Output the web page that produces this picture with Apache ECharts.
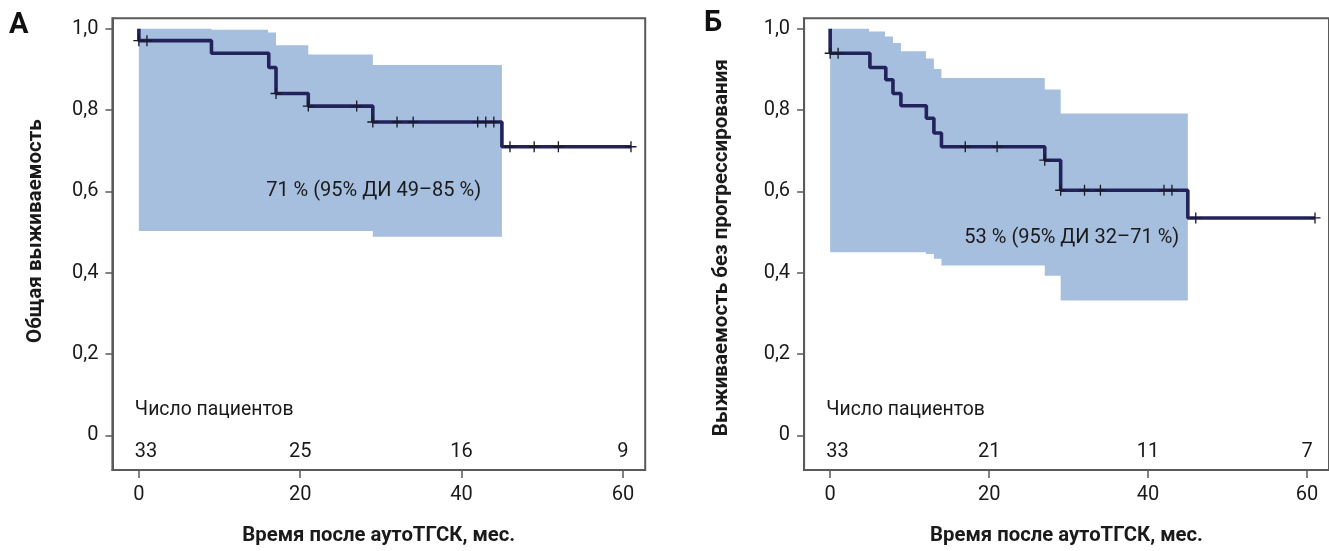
<!DOCTYPE html>
<html>
<head>
<meta charset="utf-8">
<script src="https://cdn.jsdelivr.net/npm/echarts@6/dist/echarts.min.js"></script>
<style>
html,body{margin:0;padding:0;background:#fff;}
#chart{width:1329px;height:551px;}
</style>
</head>
<body>
<div id="chart"></div>
<script>
// ---- Data ----
const xTickValues = [0, 20, 40, 60];
const xTickLabels = ['0', '20', '40', '60'];
const yTickValues = [0, 0.2, 0.4, 0.6, 0.8, 1.0];
const yTickLabels = ['0', '0,2', '0,4', '0,6', '0,8', '1,0'];

// Panel A: overall survival
const timesA = [0, 0, 9, 16.1, 17, 21, 29, 45, 61];
const survA  = [1.0, 0.971, 0.940, 0.905, 0.841, 0.810, 0.771, 0.710, 0.710];
const censorA = [0, 1, 17, 21, 27, 29, 32, 34, 42, 43, 44, 46, 49, 52, 61];
const bandTimesA = [0, 9, 16, 17, 21, 29, 45];
const upperA = [1.0, 0.998, 0.991, 0.960, 0.937, 0.911, 0.911];
const lowerA = [0.503, 0.503, 0.503, 0.503, 0.503, 0.489, 0.489];
const riskA = [33, 25, 16, 9];
const noteA = '71 % (95% ДИ 49–85 %)';

// Panel Б: progression-free survival
const timesB = [0, 0, 5, 7, 7.9, 8.9, 12.1, 13.05, 14, 27, 29, 45, 61];
const survB  = [1.0, 0.94, 0.905, 0.875, 0.841, 0.811, 0.780, 0.744, 0.710, 0.677, 0.603, 0.535, 0.535];
const censorB = [0, 1, 17, 21, 27, 29, 32, 34, 42, 43, 46, 61];
const bandTimesB = [0, 4.9, 6.9, 7.9, 8.9, 12.05, 13.05, 14, 27, 29, 45];
const upperB = [1.0, 0.9935, 0.981, 0.9655, 0.945, 0.927, 0.901, 0.879, 0.851, 0.792, 0.792];
const lowerB = [0.4505, 0.4505, 0.4505, 0.4505, 0.4505, 0.4465, 0.4344, 0.418, 0.393, 0.332, 0.332];
const riskB = [33, 21, 11, 7];
const noteB = '53 % (95% ДИ 32–71 %)';

const riskTimes = [0, 20, 40, 60];
const riskTitle = 'Число пациентов';
const xTitle = 'Время после аутоТГСК, мес.';
const yTitleA = 'Общая выживаемость';
const yTitleB = 'Выживаемость без прогрессирования';

// ---- Styles ----
const FONT = 'Roboto';
const NAVY = '#23235c';
const BAND = '#a7bfdf';
const FRAME = '#5a5a5a';
const TXT = '#1a1a1a';
const PLUS = 'path://M4.4,0h1.2v4.4h4.4v1.2h-4.4v4.4h-1.2v-4.4h-4.4v-1.2h4.4z';

function stepAt(times, vals, t) {
  let v = vals[0];
  for (let i = 0; i < times.length; i++) if (times[i] <= t) v = vals[i];
  return v;
}

const grids = [
  {left: 112.4, top: 18.3, width: 532.8, height: 460.2},
  {left: 804.1, top: 18.3, width: 532.8, height: 460.2}
];

function xAxisFor(i) {
  return {
    gridIndex: i, type: 'value', min: -3.28, max: 62.76,
    name: xTitle, nameLocation: 'middle', nameGap: 56,
    nameTextStyle: {fontFamily: FONT, fontSize: 20.3, fontWeight: 'bold', color: TXT},
    axisLine: {show: true, onZero: false, lineStyle: {color: FRAME, width: 2}},
    axisTick: {show: true, length: 8, customValues: xTickValues, lineStyle: {color: FRAME, width: 1.5}},
    axisLabel: {show: true, customValues: xTickValues, margin: 15,
      formatter: v => xTickLabels[xTickValues.indexOf(v)] ?? '',
      fontFamily: FONT, fontSize: 20, color: TXT},
    splitLine: {show: false}
  };
}
function yAxisFor(i, title, gap, pad) {
  return {
    gridIndex: i, type: 'value', min: -0.085, max: 1.026,
    name: title, nameLocation: 'middle', nameGap: gap,
    nameTextStyle: {fontFamily: FONT, fontSize: 20.6, fontWeight: 'bold', color: TXT, padding: pad},
    axisLine: {show: true, onZero: false, lineStyle: {color: FRAME, width: 2}},
    axisTick: {show: true, length: 7, customValues: yTickValues, lineStyle: {color: FRAME, width: 1.5}},
    axisLabel: {show: true, customValues: yTickValues, margin: 14,
      formatter: v => { const k = yTickValues.findIndex(t => Math.abs(t - v) < 1e-9); return k >= 0 ? yTickLabels[k] : ''; },
      fontFamily: FONT, fontSize: 20, color: TXT},
    splitLine: {show: false}
  };
}

function bandSeries(i, bandT, up, lo) {
  return {
    type: 'custom', xAxisIndex: i, yAxisIndex: i, silent: true, z: 1,
    data: [[bandT[0], up[0]]],
    renderItem: (params, api) => {
      const n = bandT.length, pts = [];
      for (let k = 0; k < n; k++) {
        pts.push(api.coord([bandT[k], up[k]]));
        if (k + 1 < n) pts.push(api.coord([bandT[k + 1], up[k]]));
      }
      for (let k = n - 1; k >= 0; k--) {
        if (k + 1 < n) pts.push(api.coord([bandT[k + 1], lo[k]]));
        pts.push(api.coord([bandT[k], lo[k]]));
      }
      return {type: 'polygon', shape: {points: pts}, style: {fill: BAND}};
    }
  };
}

function panelSeries(i, times, surv, censor, bandT, up, lo, risk, note, notePos) {
  const txt = (extra) => Object.assign({fontFamily: FONT, fontSize: 20, color: TXT}, extra);
  return [
    bandSeries(i, bandT, up, lo),
    {type: 'line', xAxisIndex: i, yAxisIndex: i, step: 'end', silent: true,
     symbol: 'none', lineStyle: {color: NAVY, width: 3.6}, data: times.map((t, k) => [t, surv[k]]), z: 3},
    {type: 'scatter', xAxisIndex: i, yAxisIndex: i, silent: true, symbol: PLUS, symbolSize: 11,
     itemStyle: {color: '#1a1a2a', opacity: 1}, data: censor.map(t => [t, stepAt(times, surv, t)]), z: 4},
    {type: 'scatter', xAxisIndex: i, yAxisIndex: i, silent: true, symbolSize: 0, z: 5,
     itemStyle: {opacity: 1},
     label: {show: true, position: 'inside', formatter: p => p.data.txt},
     data: [
       ...risk.map((r, k) => ({value: [riskTimes[k], -0.04], txt: String(r),
         label: txt(k === 0 ? {align: 'left', offset: [-4, 0]} : {align: 'center'})})),
       {value: [0, 0.061], txt: riskTitle, label: txt({align: 'left', offset: [-4, 0], fontSize: 19.4})},
       {value: notePos, txt: note, label: txt({align: 'center'})}
     ]}
  ];
}

const chart = echarts.init(document.getElementById('chart'), null, {renderer: 'canvas'});
chart.setOption({
  animation: false,
  backgroundColor: '#fff',
  grid: grids.map(g => Object.assign({show: true, borderColor: FRAME, borderWidth: 2, backgroundColor: 'transparent'}, g)),
  xAxis: [xAxisFor(0), xAxisFor(1)],
  yAxis: [yAxisFor(0, yTitleA, 66, [0, 0, 0, 26]), yAxisFor(1, yTitleB, 72, [0, 7, 0, 0])],
  graphic: [
    {type: 'text', left: 9, top: 11, style: {text: 'А', fontFamily: FONT, fontSize: 29, fontWeight: 'bold', fill: '#111'}},
    {type: 'text', left: 704, top: 9, style: {text: 'Б', fontFamily: FONT, fontSize: 29, fontWeight: 'bold', fill: '#111'}}
  ],
  series: [
    ...panelSeries(0, timesA, survA, censorA, bandTimesA, upperA, lowerA, riskA, noteA, [29.1, 0.600]),
    ...panelSeries(1, timesB, survB, censorB, bandTimesB, upperB, lowerB, riskB, noteB, [30.4, 0.485])
  ]
});
</script>
</body>
</html>
